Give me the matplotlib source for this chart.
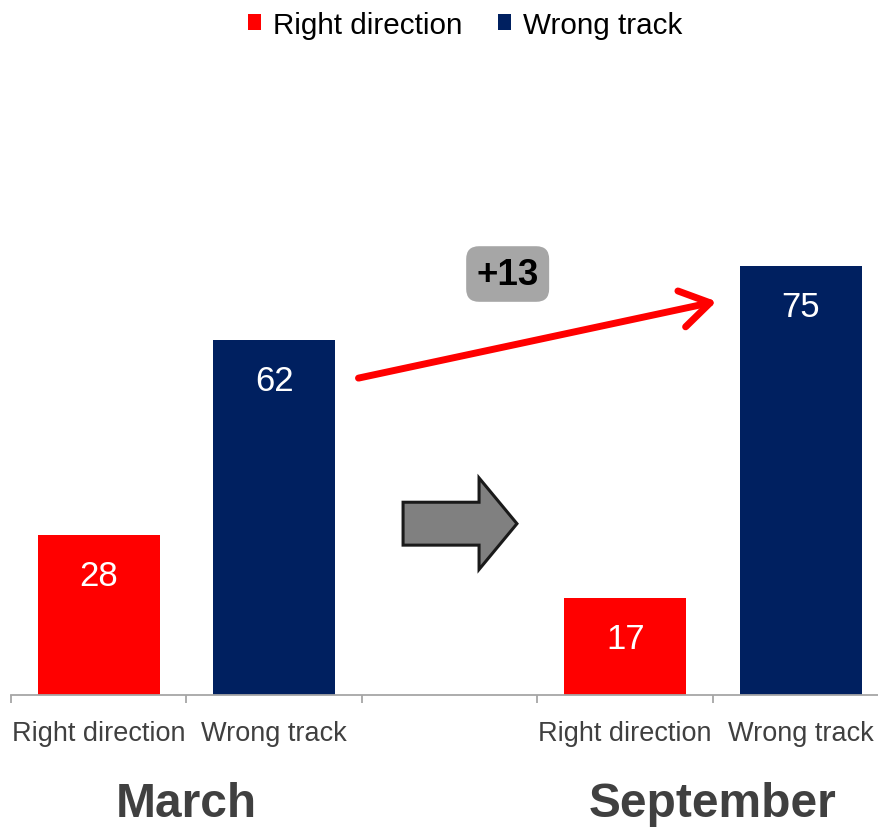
import matplotlib
matplotlib.use("Agg")
import matplotlib.pyplot as plt
from matplotlib.patches import FancyArrow

plt.rcParams['font.family'] = ['Liberation Sans', 'DejaVu Sans']

# ---- data ----
series = ["Right direction", "Wrong track"]
periods = ["March", "September"]
march_values = [28, 62]
september_values = [17, 75]
change_label = "+13"
colors = ["#FF0000", "#002060"]

W, H = 879, 829
fig = plt.figure(figsize=(W / 100, H / 100), dpi=100)
slot = 175.5
left_px, base_px = 11, 696
ax = fig.add_axes([left_px / W, (H - base_px) / H, 5 * slot / W, 572 / H])
ax.set_xlim(-0.5, 4.5)
ax.set_ylim(0, 100)

xs_march = [0, 1]
xs_sep = [3, 4]
bw = 0.695
handles = []
for i in range(2):
    b1 = ax.bar(xs_march[i], march_values[i], width=bw, color=colors[i], label=series[i])
    ax.bar(xs_sep[i], september_values[i], width=bw, color=colors[i])
    handles.append(b1)

for xs, vals in [(xs_march, march_values), (xs_sep, september_values)]:
    for x, v in zip(xs, vals):
        ax.annotate(str(v), (x, v), xytext=(0, -29), textcoords="offset points",
                    ha="center", va="center", color="white", fontsize=25)

# axes styling
for s in ["top", "right", "left"]:
    ax.spines[s].set_visible(False)
ax.spines["bottom"].set_color("#a6a6a6")
ax.spines["bottom"].set_linewidth(1.3)
ax.set_yticks([])
ax.set_xticks(xs_march + xs_sep)
ax.set_xticklabels(series + series, fontsize=19.5, color="#404040")
ax.tick_params(axis="x", which="major", length=0, pad=18)
ax.set_xticks([-0.5, 0.5, 1.5, 2.5, 3.5, 4.5], minor=True)
ax.tick_params(axis="x", which="minor", length=5.5, width=1.3, color="#a6a6a6", direction="out")

# period labels
for p, xs in zip(periods, [xs_march, xs_sep]):
    ax.text((xs[0] + xs[1]) / 2, -19.0, p, ha="center", va="center",
            fontsize=34.5, fontweight="bold", color="#404040", clip_on=False)

# red change arrow
ax.annotate("", xy=(3.52, september_values[1] - 6.2), xytext=(1.48, march_values[1] - 6.6),
            arrowprops=dict(arrowstyle="->,head_length=0.95,head_width=0.6",
                            color="#FF0000", lw=5, mutation_scale=22,
                            shrinkA=0, shrinkB=0, capstyle="round", joinstyle="round"),
            annotation_clip=False)
ax.text(2.33, 73.6, change_label, ha="center", va="center", fontsize=26.5, fontweight="bold",
        color="black",
        bbox=dict(boxstyle="round,pad=0.28,rounding_size=0.35", fc="#a6a6a6", ec="none"))

# gray block arrow
arr = FancyArrow(1.734, 29.95, 0.649, 0, width=7.5, head_width=16, head_length=0.216,
                 length_includes_head=True, fc="#808080", ec="#1a1a1a", lw=2.2)
ax.add_patch(arr)

# legend
fig.legend(handles=handles, labels=series, loc="upper center", bbox_to_anchor=(0.529, 1.018),
           ncol=2, frameon=False, fontsize=21.3, handlelength=0.45, handleheight=0.45,
           handletextpad=0.4, columnspacing=1.2)

fig.savefig("out.png", dpi=100)
